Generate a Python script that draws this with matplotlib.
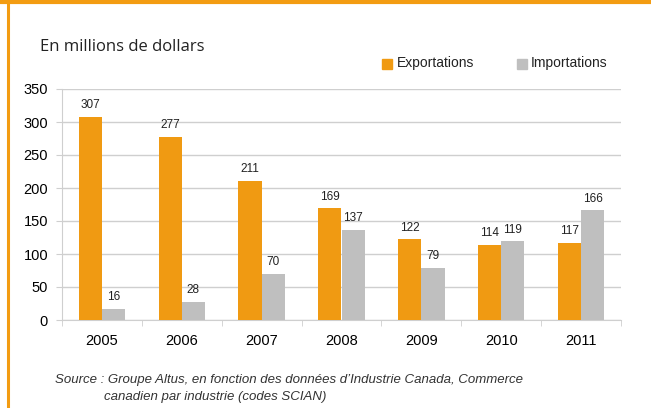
import matplotlib
matplotlib.use("Agg")
import matplotlib.pyplot as plt
import numpy as np
from matplotlib.patches import Rectangle
from matplotlib.lines import Line2D

years = ["2005", "2006", "2007", "2008", "2009", "2010", "2011"]
exportations = [307, 277, 211, 169, 122, 114, 117]
importations = [16, 28, 70, 137, 79, 119, 166]
yticks = [0, 50, 100, 150, 200, 250, 300, 350]

ORANGE = "#F09A12"
GRAY = "#BFBFBF"
GRID = "#CFCFCF"
BORDER = "#F39C12"

fig = plt.figure(figsize=(6.51, 4.08), dpi=100)
fig.patch.set_facecolor("white")

# orange frame (top and left)
fig.add_artist(Line2D([0, 1], [1 - 1.5/408, 1 - 1.5/408], color=BORDER, lw=3, transform=fig.transFigure))
fig.add_artist(Line2D([8/651, 8/651], [0, 1], color=BORDER, lw=2.2, transform=fig.transFigure))

ax = fig.add_axes([62/651, 1 - 320/408, (621 - 62)/651, (320 - 89)/408])
x = np.arange(len(years))
w = 0.29
ax.bar(x - w/2, exportations, w, color=ORANGE, zorder=3)
ax.bar(x + w/2, importations, w, color=GRAY, zorder=3)

for xi, v in zip(x, exportations):
    ax.text(xi - w/2, v + 9, str(v), ha="center", va="bottom", fontsize=8.5,
            family="Liberation Sans", color="#222222")
for xi, v in zip(x, importations):
    ax.text(xi + w/2, v + 9, str(v), ha="center", va="bottom", fontsize=8.5,
            family="Liberation Sans", color="#222222")

ax.set_xlim(-0.5, len(years) - 0.5)
ax.set_ylim(0, 350)
ax.set_yticks(yticks)
ax.set_yticklabels([str(t) for t in yticks], family="Liberation Sans", fontsize=10.5)
ax.set_xticks(x)
ax.set_xticklabels(years, family="Liberation Sans", fontsize=10.5)
ax.set_xticks(np.arange(len(years) + 1) - 0.5, minor=True)
ax.tick_params(axis="x", which="major", length=0, pad=10)
ax.tick_params(axis="x", which="minor", length=4, color=GRID, direction="out")
ax.tick_params(axis="y", length=4, color=GRID, pad=6)
ax.grid(axis="y", color=GRID, lw=1, zorder=0)
for s in ["top", "right"]:
    ax.spines[s].set_visible(False)
ax.spines["left"].set_color(GRID)
ax.spines["bottom"].set_color(GRID)

fig.text(40/651, 1 - 47/408, "En millions de dollars", fontsize=12, family="Open Sans",
         va="center", ha="left", color="#222222")

# legend
fig.patches.append(Rectangle((382/651, 1 - 69/408), 10/651, 10/408, color=ORANGE, transform=fig.transFigure))
fig.text(397/651, 1 - 63/408, "Exportations", fontsize=10, family="Liberation Sans", va="center", color="#222222")
fig.patches.append(Rectangle((517/651, 1 - 69/408), 10/651, 10/408, color=GRAY, transform=fig.transFigure))
fig.text(531/651, 1 - 63/408, "Importations", fontsize=10, family="Liberation Sans", va="center", color="#222222")

fig.text(55/651, 1 - 380/408, "Source : Groupe Altus, en fonction des données d\u2019Industrie Canada, Commerce",
         fontsize=9.5, family="Liberation Sans", style="italic", va="center", color="#333333")
fig.text(104/651, 1 - 397/408, "canadien par industrie (codes SCIAN)",
         fontsize=9.5, family="Liberation Sans", style="italic", va="center", color="#333333")

fig.savefig("out.png", dpi=100)
